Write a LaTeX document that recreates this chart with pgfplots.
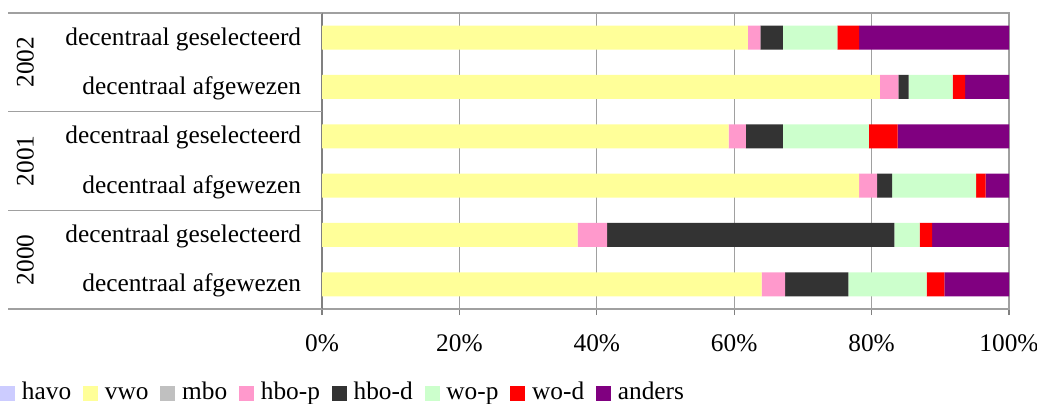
\documentclass[border=0pt]{standalone}
\usepackage{pgfplots}
\pgfplotsset{compat=1.18}
\usepackage{fontspec}
\setmainfont{Liberation Serif}
\definecolor{havo}{RGB}{204,204,255}
\definecolor{vwo}{RGB}{255,255,153}
\definecolor{mbo}{RGB}{192,192,192}
\definecolor{hbop}{RGB}{255,153,204}
\definecolor{hbod}{RGB}{51,51,51}
\definecolor{wop}{RGB}{204,255,204}
\definecolor{wod}{RGB}{255,0,0}
\definecolor{anders}{RGB}{128,0,128}
\definecolor{gridgray}{RGB}{160,160,160}
\definecolor{axgray}{RGB}{128,128,128}
\begin{document}
\begin{tikzpicture}
\useasboundingbox (0pt,0pt) rectangle (777.75pt,302.25pt);
\begin{axis}[
  at={(241.5pt,70.5pt)}, anchor=south west,
  scale only axis, width=515.25pt, height=222pt,
  xbar stacked, bar width=18pt,
  xmin=0, xmax=100, ymin=-0.5, ymax=5.5,
  clip=false,
  xtick={0,20,40,60,80,100},
  xticklabels={0\%,20\%,40\%,60\%,80\%,100\%},
  xtick pos=lower, tick align=outside, major tick length=4.5pt,
  x tick style={draw=axgray, line width=0.8pt},
  ytick={0,1,2,3,4,5},
  yticklabels={decentraal afgewezen,decentraal geselecteerd,decentraal afgewezen,decentraal geselecteerd,decentraal afgewezen,decentraal geselecteerd},
  y tick style={draw=none},
  ytick pos=left,
  xmajorgrids, grid style={draw=gridgray, line width=1pt},
  axis line style={draw=gridgray, line width=1pt},
  tick label style={font=\fontsize{19}{21}\selectfont},
  x tick label style={anchor=base, yshift=-27.5pt, inner sep=0pt},
  y tick label style={anchor=east, inner sep=0pt, xshift=-11pt, yshift=-1pt},
  legend columns=8,
  legend style={at={(-0.4687,-0.285)}, anchor=west, draw=none, fill=none,
    font=\fontsize{19}{21}\selectfont, inner sep=0pt,
    nodes={inner sep=0pt, anchor=west, text height=13pt, text depth=4pt},
    /tikz/every odd column/.append style={column sep=5pt},
    /tikz/every even column/.append style={column sep=9pt}},
  legend image code/.code={\fill[#1] (0pt,-5.6pt) rectangle (11.25pt,5.6pt);},
  every axis plot/.append style={draw=none},
]
\addplot[fill=havo] coordinates {(0,0) (0,1) (0,2) (0,3) (0,4) (0,5)};
\addplot[fill=vwo] coordinates {(64.0,0) (37.2,1) (78.2,2) (59.2,3) (81.2,4) (62.0,5)};
\addplot[fill=mbo] coordinates {(0,0) (0,1) (0,2) (0,3) (0,4) (0,5)};
\addplot[fill=hbop] coordinates {(3.4,0) (4.3,1) (2.6,2) (2.5,3) (2.7,4) (1.8,5)};
\addplot[fill=hbod] coordinates {(9.2,0) (41.8,1) (2.2,2) (5.4,3) (1.5,4) (3.3,5)};
\addplot[fill=wop] coordinates {(11.4,0) (3.7,1) (12.2,2) (12.5,3) (6.4,4) (7.9,5)};
\addplot[fill=wod] coordinates {(2.6,0) (1.8,1) (1.4,2) (4.2,3) (1.8,4) (3.2,5)};
\addplot[fill=anders] coordinates {(9.4,0) (11.2,1) (3.4,2) (16.2,3) (6.4,4) (21.8,5)};
\legend{havo,vwo,mbo,hbo-p,hbo-d,wo-p,wo-d,anders}
\draw[gridgray, line width=1pt] (axis cs:-45.7,5.5) -- (axis cs:0,5.5);
\draw[gridgray, line width=1pt] (axis cs:-45.7,3.5) -- (axis cs:0,3.5);
\draw[gridgray, line width=1pt] (axis cs:-45.7,1.5) -- (axis cs:0,1.5);
\draw[gridgray, line width=1pt] (axis cs:-45.7,-0.5) -- (axis cs:0,-0.5);
\draw[axgray, line width=1pt] (axis cs:0,5.5) -- (axis cs:0,-0.5) -- ++(0,-4.5pt);
\node[rotate=90, font=\fontsize{19}{21}\selectfont, inner sep=0pt] at (axis cs:-43.2,4.5) {2002};
\node[rotate=90, font=\fontsize{19}{21}\selectfont, inner sep=0pt] at (axis cs:-43.2,2.5) {2001};
\node[rotate=90, font=\fontsize{19}{21}\selectfont, inner sep=0pt] at (axis cs:-43.2,0.5) {2000};
\end{axis}
\end{tikzpicture}
\end{document}
